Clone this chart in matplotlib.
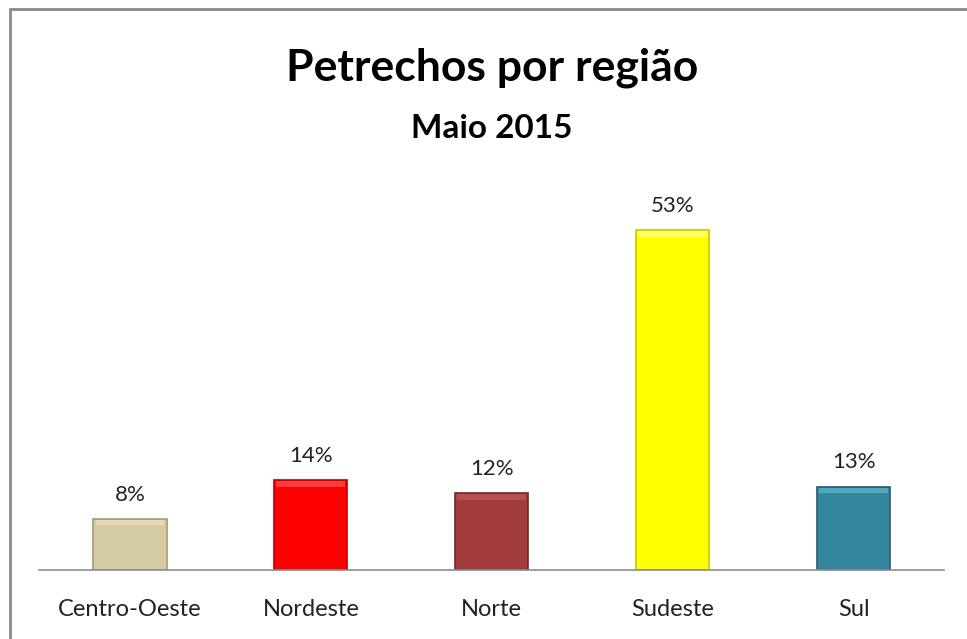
import matplotlib.pyplot as plt
from matplotlib.patches import Rectangle
import numpy as np

regioes = ['Centro-Oeste', 'Nordeste', 'Norte', 'Sudeste', 'Sul']
percentuais = [8, 14, 12, 53, 13]
cores = ['#D4CBA3', '#FF0000', '#A23B3B', '#FFFF00', '#33869E']
bordas = ['#A39A72', '#C00000', '#7A2626', '#C8C800', '#215F70']
brilho = ['#E2DABA', '#FF3C3C', '#B45050', '#FFFF66', '#4FA8C0']

plt.rcParams['font.family'] = ['Lato', 'DejaVu Sans']

fig = plt.figure(figsize=(9.67, 6.39), dpi=100)
fig.patch.set_facecolor('white')

# moldura do gráfico (cortada à direita e embaixo)
fig.patches.append(Rectangle((10 / 967, -0.05), 1.2, 1 - 9 / 639 + 0.05,
                             transform=fig.transFigure, fill=False,
                             edgecolor='#8C8C8C', linewidth=2, zorder=0))

ax = fig.add_axes([39.5 / 967, (639 - 570) / 639, 904.5 / 967, 385 / 639])
x = np.arange(len(regioes))
ax.bar(x, percentuais, width=0.405, color=cores, edgecolor=bordas, linewidth=1.2, zorder=2)

# faixa de brilho no topo das barras
faixa = 0.9
ax.bar(x, [faixa] * len(x), bottom=[p - faixa - 0.15 for p in percentuais], width=0.38,
       color=brilho, linewidth=0, zorder=3)

for xi, p in zip(x, percentuais):
    ax.text(xi, p + 2.2, f'{p}%', ha='center', va='bottom', fontsize=16, color='#222222')

ax.set_xlim(-0.5, 4.5)
ax.set_ylim(0, 60)
ax.set_xticks(x)
ax.set_xticklabels(regioes, fontsize=17, color='#222222')
ax.tick_params(axis='x', length=0, pad=21)
ax.set_yticks([])
for lado in ['top', 'right', 'left']:
    ax.spines[lado].set_visible(False)
ax.spines['bottom'].set_color('#8C8C8C')
ax.spines['bottom'].set_linewidth(1.2)

fig.text(492 / 967, 1 - 80 / 639, 'Petrechos por região', ha='center', va='baseline',
         fontsize=32, fontweight='bold')
fig.text(492 / 967, 1 - 138 / 639, 'Maio 2015', ha='center', va='baseline',
         fontsize=24, fontweight='bold')

fig.savefig('out.png', dpi=100, facecolor='white')
